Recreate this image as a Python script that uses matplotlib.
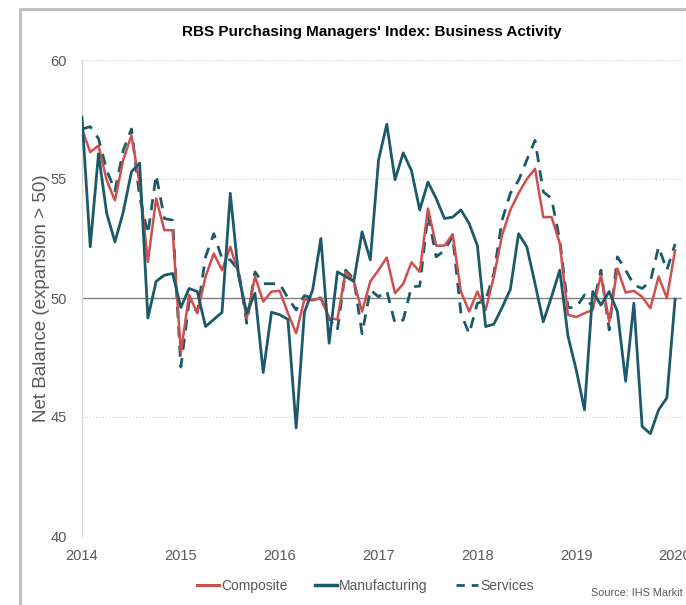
import matplotlib
matplotlib.use("Agg")
import matplotlib.pyplot as plt
import numpy as np
from matplotlib.lines import Line2D
from matplotlib.patches import Rectangle

plt.rcParams['font.family'] = ['Liberation Sans', 'DejaVu Sans']

start_year = 2014
composite = [57.1, 56.13, 56.4, 54.94, 54.1, 55.8, 56.83, 54.8, 51.52, 54.18, 52.85, 52.85,
             47.7, 50.13, 49.36, 50.9, 51.87, 51.17, 52.15, 51.03, 49.15, 50.9, 49.85, 50.27,
             50.3, 49.36, 48.52, 49.94, 49.9, 50.0, 49.15, 49.1, 51.1, 50.7, 49.43, 50.7,
             51.17, 51.7, 50.2, 50.6, 51.5, 51.1, 53.76, 52.2, 52.2, 52.68, 50.27, 49.43,
             50.27, 49.5, 50.9, 52.64, 53.7, 54.4, 55.0, 55.43, 53.4, 53.4, 52.3, 49.29,
             49.2, 49.36, 49.5, 50.96, 49.0, 51.24, 50.23, 50.3, 50.05, 49.57, 50.9, 50.0,
             52.0]
manufacturing = [57.6, 52.15, 56.06, 53.55, 52.36, 53.6, 55.3, 55.67, 49.16, 50.7, 50.96, 51.03,
                 49.6, 50.4, 50.27, 48.8, 49.1, 49.4, 54.4, 50.96, 49.36, 50.2, 46.87, 49.4,
                 49.3, 49.1, 44.54, 49.4, 50.34, 52.5, 48.1, 51.1, 50.9, 50.7, 52.78, 51.6,
                 55.8, 57.3, 54.97, 56.1, 55.35, 53.7, 54.87, 54.18, 53.34, 53.4, 53.7, 53.13,
                 52.2, 48.8, 48.9, 49.6, 50.36, 52.7, 52.15, 50.6, 49.0, 50.05, 51.17, 48.4,
                 46.98, 45.3, 50.27, 49.7, 50.27, 49.43, 46.5, 49.78, 44.6, 44.3, 45.3, 45.8,
                 49.95]
services = [57.1, 57.2, 56.7, 55.37, 54.5, 56.2, 57.1, 54.25, 52.7, 55.17, 53.34, 53.27,
            47.1, 49.85, 49.4, 51.73, 52.7, 51.66, 51.6, 51.17, 48.94, 51.1, 50.6, 50.6,
            50.6, 50.0, 49.5, 50.1, 50.0, 50.0, 49.15, 48.65, 51.17, 50.8, 48.5, 50.34,
            50.05, 50.3, 48.94, 49.08, 50.47, 50.5, 53.5, 51.73, 52.0, 52.6, 49.36, 48.5,
            49.78, 49.9, 51.03, 53.27, 54.4, 54.94, 55.8, 56.62, 54.46, 54.18, 52.43, 49.6,
            49.6, 50.13, 49.6, 51.17, 48.66, 51.73, 51.17, 50.55, 50.4, 50.7, 52.15, 51.17,
            52.27]
year_ticks = [2014, 2015, 2016, 2017, 2018, 2019, 2020]
y_ticks = [40, 45, 50, 55, 60]

months = np.arange(len(composite))
x = start_year + months / 12.0

red = '#cf4f4f'
teal = '#1c5a69'
txt = '#595959'

fig = plt.figure(figsize=(6.86, 6.05), dpi=100)
ax = fig.add_axes([82/686, 1-536/605, (682-82)/686, (536-60)/605])

# outer border
fig.patches.append(Rectangle((20/686, -0.05), 1.2, 1 - 8.5/605 + 0.05, transform=fig.transFigure,
                             fill=False, edgecolor='#c0c0c0', linewidth=2.2))

for yv in [40, 45, 55, 60]:
    ax.axhline(yv, color='#d9d9d9', linewidth=0.8, linestyle=(0, (1.5, 1.5)), zorder=0)
ax.axhline(50, color='#7f7f7f', linewidth=1.0, zorder=1)

ax.plot(x, composite, color=red, linewidth=1.8, zorder=3)
ax.plot(x, manufacturing, color=teal, linewidth=2.0, zorder=4)
ax.plot(x, services, color=teal, linewidth=2.0, linestyle=(0, (4, 3)), zorder=2)

ax.set_xlim(2014, 2020.07)
ax.set_ylim(40, 60)
ax.set_xticks(year_ticks)
ax.set_xticklabels([str(y) for y in year_ticks])
ax.set_yticks(y_ticks)
ax.tick_params(axis='both', length=0, labelsize=10.5, colors=txt)
ax.tick_params(axis='x', pad=9)
ax.tick_params(axis='y', pad=11)
for s in ['top', 'right', 'bottom']:
    ax.spines[s].set_visible(False)
ax.spines['left'].set_color('#d9d9d9')
ax.spines['left'].set_linewidth(1.0)

ax.set_ylabel('Net Balance (expansion > 50)', fontsize=13.5, color=txt)
ax.yaxis.set_label_coords((50 - 82) / 600, 0.5)

fig.text(372/686, 1-32/605, "RBS Purchasing Managers' Index: Business Activity",
         ha='center', va='center', fontsize=11, fontweight='bold', color='#000000')

handles = [Line2D([], [], color=red, linewidth=2.2),
           Line2D([], [], color=teal, linewidth=2.5),
           Line2D([], [], color=teal, linewidth=2.0, linestyle=(0, (3, 2.5)))]
leg = fig.legend(handles, ['Composite', 'Manufacturing', 'Services'], loc='center',
                 bbox_to_anchor=(365/686, 1-586/605), ncol=3, frameon=False,
                 fontsize=10, handlelength=1.6, handletextpad=0.15, columnspacing=2.0,
                 labelcolor=txt)

fig.text(683/686, 1-593/605, 'Source: IHS Markit', ha='right', va='center',
         fontsize=7.8, color=txt)

fig.savefig('out.png', dpi=100)
